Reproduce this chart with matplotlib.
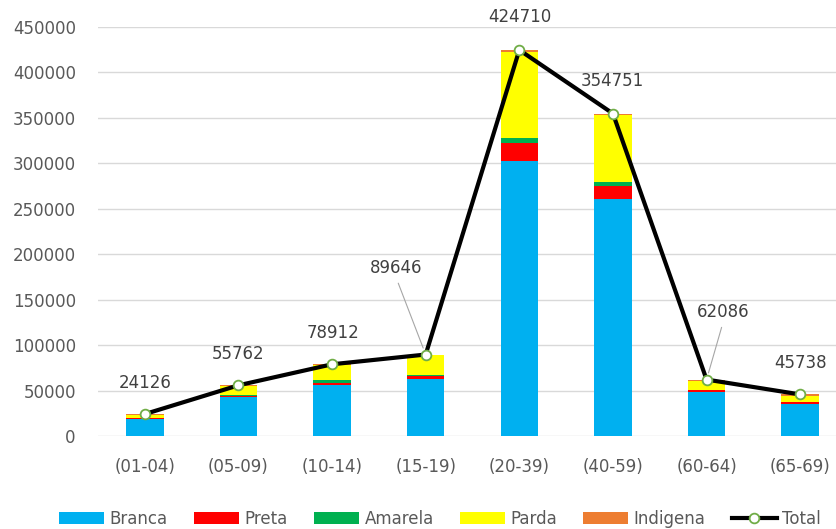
import matplotlib
matplotlib.use("Agg")
import matplotlib.pyplot as plt
import numpy as np

categories = ["(01-04)", "(05-09)", "(10-14)", "(15-19)", "(20-39)", "(40-59)", "(60-64)", "(65-69)"]
branca   = [18500, 43000, 56000, 62300, 303000, 260500, 48700, 35200]
preta    = [800, 1500, 2500, 3800, 19500, 14500, 1500, 1800]
amarela  = [300, 300, 2800, 800, 5300, 4800, 300, 300]
parda    = [3700, 9800, 16800, 21900, 94500, 73000, 10400, 7000]
indigena = [826, 1162, 812, 846, 2410, 1951, 1186, 1438]
total    = [24126, 55762, 78912, 89646, 424710, 354751, 62086, 45738]

series = [("Branca", branca, "#00B0F0"), ("Preta", preta, "#FF0000"),
          ("Amarela", amarela, "#00B050"), ("Parda", parda, "#FFFF00"),
          ("Indigena", indigena, "#ED7D31")]

# label offsets (pixels) relative to the points
label_offsets = [(0, 31), (0, 31), (1, 31), (-30, 87), (1, 33), (-1, 33), (17, 68), (0, 31)]
leaders = [False, False, False, True, False, False, True, False]

W, H = 837, 529
fig = plt.figure(figsize=(W / 100, H / 100), dpi=100)
ax = fig.add_axes([98 / W, 93 / H, 749 / W, 409 / H])

x = np.arange(len(categories))
bottom = np.zeros(len(categories))
handles = []
for name, vals, col in series:
    b = ax.bar(x, vals, 0.4, bottom=bottom, color=col, label=name, zorder=2)
    handles.append(b)
    bottom += np.array(vals)

ln, = ax.plot(x, total, color="black", lw=3, marker="o", markersize=7,
              markerfacecolor="white", markeredgecolor="#70AD47", markeredgewidth=1.3,
              zorder=4, label="Total")
handles.append(ln)

for i, v in enumerate(total):
    dx, dy = label_offsets[i]
    if leaders[i]:
        ax.annotate(str(v), (x[i], v), xytext=(dx, dy), textcoords="offset pixels",
                    ha="center", va="center", fontsize=12, color="#404040", zorder=5,
                    arrowprops=dict(arrowstyle="-", color="#A6A6A6", lw=0.8,
                                    relpos=(0.5, 0), shrinkA=3, shrinkB=5))
    else:
        ax.annotate(str(v), (x[i], v), xytext=(dx, dy), textcoords="offset pixels",
                    ha="center", va="center", fontsize=12, color="#404040", zorder=5)

ax.set_xlim(-0.5, len(categories) - 0.5)
ax.set_ylim(0, 450000)
ax.set_yticks(np.arange(0, 450001, 50000))
ax.set_xticks(x)
ax.set_xticklabels(categories)
ax.tick_params(axis="both", length=0, labelsize=12, labelcolor="#595959")
ax.tick_params(axis="y", pad=16)
ax.tick_params(axis="x", pad=16)
for s in ax.spines.values():
    s.set_visible(False)
ax.yaxis.grid(True, color="#D9D9D9", lw=1, zorder=0)
ax.set_axisbelow(True)

fig.legend(handles=handles, labels=[h.get_label() for h in handles], loc="center",
           bbox_to_anchor=(440 / W, 10 / H), ncol=6, frameon=False, fontsize=12,
           handlelength=2.7, handleheight=0.7, handletextpad=0.35, columnspacing=1.55,
           labelcolor="#595959")

fig.savefig("out.png", dpi=100)
